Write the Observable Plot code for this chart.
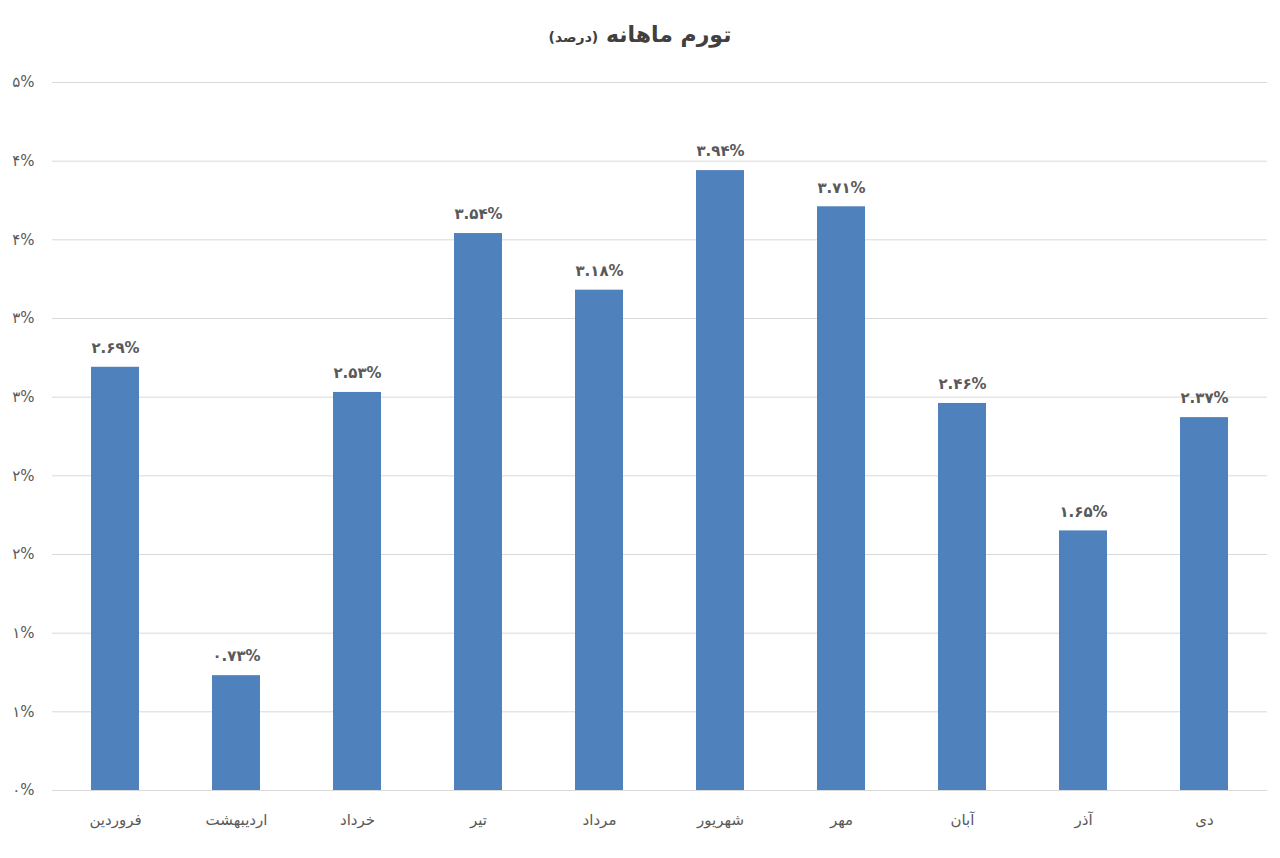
<!DOCTYPE html>
<html><head><meta charset="utf-8">
<script src="https://cdn.jsdelivr.net/npm/d3@7"></script>
<script src="https://cdn.jsdelivr.net/npm/@observablehq/plot@0.6"></script>
<style>
body{margin:0;background:#fff;font-family:"DejaVu Sans",sans-serif;}
#title{height:60px;line-height:70px;text-align:center;font-weight:bold;font-size:22px;color:#404040;}
#title span{font-size:14px;}
</style></head><body>
<div id="title" dir="rtl">تورم ماهانه <span>(درصد)</span></div>
<div id="chart"></div>
<script>
const months = ["فروردین","اردیبهشت","خرداد","تیر","مرداد","شهریور","مهر","آبان","آذر","دی"];
const inflation = [2.69, 0.73, 2.53, 3.54, 3.18, 3.94, 3.71, 2.46, 1.65, 2.37];
const yTicks = [0, 0.5, 1, 1.5, 2, 2.5, 3, 3.5, 4, 4.5];
const yTickLabels = ["۰%","۱%","۱%","۲%","۲%","۳%","۳%","۴%","۴%","۵%"];

const faDigits = "۰۱۲۳۴۵۶۷۸۹";
const toFa = s => String(s).replace(/[0-9]/g, d => faDigits[+d]);
const data = months.map((m, i) => ({month: m, value: inflation[i], label: toFa(inflation[i].toFixed(2)) + "%"}));

const chart = Plot.plot({
  width: 1280,
  height: 798,
  marginTop: 22,
  marginBottom: 68,
  marginLeft: 52,
  marginRight: 13,
  style: {fontFamily: "DejaVu Sans, sans-serif", background: "#fff"},
  x: {domain: months, paddingInner: 0.6, paddingOuter: 0.3, label: null},
  y: {domain: [0, 4.5], label: null},
  marks: [
    Plot.gridY(yTicks, {stroke: "#d9d9d9", strokeOpacity: 1}),
    Plot.axisY(yTicks, {tickSize: 0, tickPadding: 18, tickFormat: (d, i) => yTickLabels[i], fontSize: 15, fill: "#595959", label: null}),
    Plot.axisX({tickSize: 0, tickPadding: 24, fontSize: 15, fill: "#595959", label: null}),
    Plot.barY(data, {x: "month", y: "value", fill: "#4f81bd"}),
    Plot.text(data, {x: "month", y: "value", text: "label", dy: -19, fontSize: 15, fontWeight: "bold", fill: "#595959"}),
    Plot.ruleY([0], {stroke: "#d9d9d9"})
  ]
});
document.getElementById("chart").append(chart);
</script>
</body></html>
